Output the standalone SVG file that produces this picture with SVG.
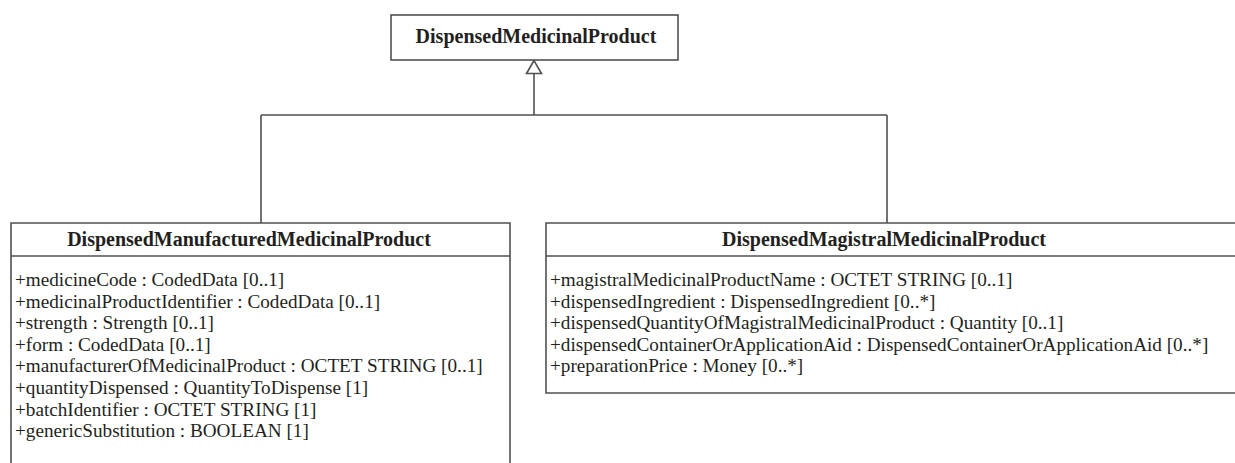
<svg xmlns="http://www.w3.org/2000/svg" width="1235" height="463" viewBox="0 0 1235 463">
<style>
.box{fill:#ffffff;stroke:#505050;stroke-width:1.6}
.ln{fill:none;stroke:#505050;stroke-width:1.6}
.title{font-family:"Liberation Serif",serif;font-weight:bold;font-size:20px;fill:#231f20;text-anchor:middle}
.attr{font-family:"Liberation Serif",serif;font-size:19.2px;fill:#231f20}
</style>
<rect width="1235" height="463" fill="#ffffff"/>
<g id="connectors">
<path class="ln" d="M534 73.5 V115 M261 115 H887 M261 115 V223 M887 115 V223"/>
<polygon points="534,60.5 526.5,73.5 541.5,73.5" fill="#ffffff" stroke="#505050" stroke-width="1.6"/>
</g>
<g id="DispensedMedicinalProduct">
<rect class="box" x="391" y="15" width="287" height="45"/>
<text class="title" x="536" y="43">DispensedMedicinalProduct</text>
</g>
<g id="DispensedManufacturedMedicinalProduct">
<path class="box" d="M11 470 V223 H510 V470 Z"/>
<path class="ln" d="M11 256 H510"/>
<text class="title" x="249" y="246">DispensedManufacturedMedicinalProduct</text>
<text class="attr" x="15" y="286">+medicineCode : CodedData [0..1]</text>
<text class="attr" x="15" y="307.6">+medicinalProductIdentifier : CodedData [0..1]</text>
<text class="attr" x="15" y="329.2">+strength : Strength [0..1]</text>
<text class="attr" x="15" y="350.8">+form : CodedData [0..1]</text>
<text class="attr" x="15" y="372.4">+manufacturerOfMedicinalProduct : OCTET STRING [0..1]</text>
<text class="attr" x="15" y="394">+quantityDispensed : QuantityToDispense [1]</text>
<text class="attr" x="15" y="415.6">+batchIdentifier : OCTET STRING [1]</text>
<text class="attr" x="15" y="437.2">+genericSubstitution : BOOLEAN [1]</text>
</g>
<g id="DispensedMagistralMedicinalProduct">
<path class="box" d="M1245 223 H546 V393 H1245"/>
<path class="ln" d="M546 256 H1245"/>
<text class="title" x="884" y="246">DispensedMagistralMedicinalProduct</text>
<text class="attr" x="550" y="286">+magistralMedicinalProductName : OCTET STRING [0..1]</text>
<text class="attr" x="550" y="307.6">+dispensedIngredient : DispensedIngredient [0..*]</text>
<text class="attr" x="550" y="329.2">+dispensedQuantityOfMagistralMedicinalProduct : Quantity [0..1]</text>
<text class="attr" x="550" y="350.8">+dispensedContainerOrApplicationAid : DispensedContainerOrApplicationAid [0..*]</text>
<text class="attr" x="550" y="372.4">+preparationPrice : Money [0..*]</text>
</g>
</svg>
